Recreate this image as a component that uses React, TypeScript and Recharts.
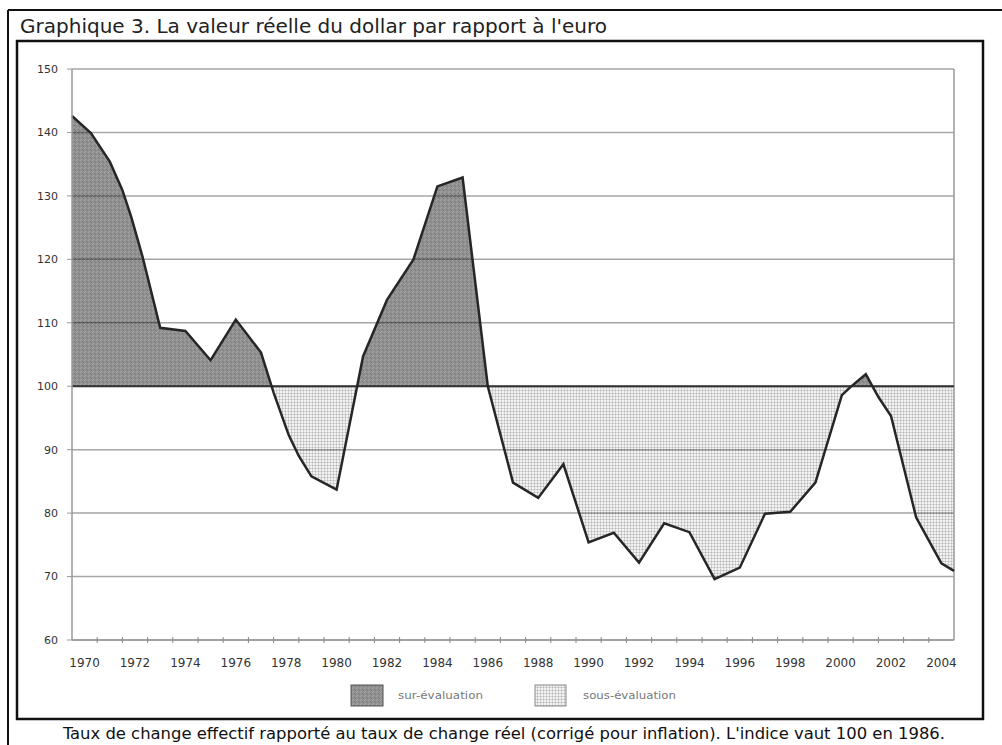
import { ComposedChart, Area, Line, XAxis, YAxis, CartesianGrid, ReferenceLine } from "recharts";

// decimal year positions (edges included)
const YEARS = [
  1969.5, 1970.25, 1971, 1971.5, 1971.85, 1972.3, 1973, 1974, 1975, 1976,
  1977, 1977.5, 1978.1, 1978.5, 1979, 1980, 1981.05, 1982, 1983.05, 1984,
  1985, 1986, 1987, 1988, 1989, 1990, 1991, 1992, 1993, 1994,
  1995, 1996, 1997, 1998, 1999, 2000.05, 2000.4, 2001, 2001.5, 2002,
  2003, 2004, 2004.5,
];
const VALUES = [
  142.6, 139.9, 135.4, 130.9, 126.7, 120.4, 109.2, 108.7, 104.1, 110.5,
  105.3, 99.0, 92.3, 89.0, 85.8, 83.7, 104.7, 113.6, 120.0, 131.5,
  132.9, 100.0, 84.8, 82.4, 87.7, 75.4, 76.9, 72.2, 78.4, 77.0,
  69.6, 71.4, 79.9, 80.2, 84.8, 98.6, 99.9, 101.9, 98.3, 95.3,
  79.3, 72.1, 70.9,
];
const X_LABELS = ["1970", "1972", "1974", "1976", "1978", "1980", "1982", "1984", "1986",
  "1988", "1990", "1992", "1994", "1996", "1998", "2000", "2002", "2004"];
const Y_TICKS = [60, 70, 80, 90, 100, 110, 120, 130, 140, 150];
const LEGEND = ["sur-évaluation", "sous-évaluation"];
const TITLE = "Graphique 3. La valeur réelle du dollar par rapport à l'euro";
const CAPTION = "Taux de change effectif rapporté au taux de change réel (corrigé pour inflation). L'indice vaut 100 en 1986.";

const data = YEARS.map((year, i) => ({ year, value: VALUES[i] }));

const W = 1002;
const H = 745;
const PLOT_TOP = 69;
const PLOT_BOTTOM = 640;
const Y_MIN = 60;
const Y_MAX = 150;
const Y100 = PLOT_TOP + ((Y_MAX - 100) / (Y_MAX - Y_MIN)) * (PLOT_BOTTOM - PLOT_TOP);

// label ticks on even years, small marks on the year boundaries
const tickMarks: number[] = [];
for (let y = 1970.5; y < 2004.5; y += 1) tickMarks.push(y);
const xTicks = [...X_LABELS.map(Number), ...tickMarks].sort((a, b) => a - b);

const FONT = "DejaVu Sans";

function XTick(props: any) {
  const { x, y, payload } = props;
  const v = payload.value;
  if (Number.isInteger(v)) {
    return (
      <text x={x} y={y + 23} textAnchor="middle" dominantBaseline="middle"
        fontSize={12} fontFamily={FONT} fill="#333">
        {v}
      </text>
    );
  }
  return <line x1={x} x2={x} y1={y - 3} y2={y + 3} stroke="#888" strokeWidth={1} />;
}

function Textures({ prefix }: { prefix: string }) {
  return (
    <>
      <pattern id={`${prefix}dark`} width="4" height="4" patternUnits="userSpaceOnUse">
        <rect width="4" height="4" fill="#000" fillOpacity={0.43} />
        <rect x="0" y="0" width="1" height="1" fill="#fff" fillOpacity={0.18} />
        <rect x="2" y="1" width="1" height="1" fill="#000" fillOpacity={0.15} />
        <rect x="1" y="3" width="1" height="1" fill="#fff" fillOpacity={0.14} />
        <rect x="3" y="2" width="1" height="1" fill="#000" fillOpacity={0.12} />
      </pattern>
      <pattern id={`${prefix}light`} width="3" height="3" patternUnits="userSpaceOnUse">
        <rect width="3" height="3" fill="#000" fillOpacity={0.05} />
        <rect x="0" y="0" width="3" height="1" fill="#000" fillOpacity={0.13} />
        <rect x="0" y="0" width="1" height="3" fill="#000" fillOpacity={0.13} />
      </pattern>
    </>
  );
}

export default function App() {
  return (
    <div style={{ position: "absolute", left: 0, top: 0, width: W, height: H, overflow: "hidden", background: "#fff" }}>
      <svg width={W} height={H} style={{ position: "absolute", left: 0, top: 0 }}>
        <defs>
          <Textures prefix="leg-" />
        </defs>
        {/* outer frame */}
        <line x1={8} x2={W} y1={10} y2={10} stroke="#111" strokeWidth={2} />
        <line x1={8} x2={8} y1={10} y2={H} stroke="#111" strokeWidth={2} />
        {/* inner frame */}
        <rect x={17} y={41} width={966} height={678} fill="#fff" stroke="#111" strokeWidth={2.5} />
        <text x={20} y={33} fontFamily="DejaVu Sans Condensed" fontSize={20} fill="#222"
          textLength={587} lengthAdjust="spacingAndGlyphs">
          {TITLE}
        </text>
        {/* legend */}
        <rect x={351} y={685} width={32} height={21} fill="url(#leg-dark)" stroke="#555" strokeWidth={1} />
        <text x={398} y={696} dominantBaseline="middle" fontFamily={FONT} fontSize={10} fill="#777"
          textLength={85} lengthAdjust="spacingAndGlyphs">
          {LEGEND[0]}
        </text>
        <rect x={535} y={685} width={31} height={21} fill="url(#leg-light)" stroke="#888" strokeWidth={1} />
        <text x={583} y={696} dominantBaseline="middle" fontFamily={FONT} fontSize={10} fill="#777"
          textLength={93} lengthAdjust="spacingAndGlyphs">
          {LEGEND[1]}
        </text>
        <text x={63} y={739} fontFamily="DejaVu Sans Condensed" fontSize={15} fill="#111"
          textLength={882} lengthAdjust="spacingAndGlyphs">
          {CAPTION}
        </text>
      </svg>
      <div style={{ position: "absolute", left: 0, top: 0 }}>
        <ComposedChart width={W} height={H} data={data}
          margin={{ top: PLOT_TOP, right: 48, left: 22, bottom: 75 }}>
          <defs>
            <Textures prefix="plot-" />
            <pattern id="splitFill" patternUnits="userSpaceOnUse" x="0" y="0" width={W} height={H}>
              <rect x="0" y="0" width={W} height={Y100} fill="url(#plot-dark)" />
              <rect x="0" y={Y100} width={W} height={H - Y100} fill="url(#plot-light)" />
            </pattern>
          </defs>
          <CartesianGrid vertical={false} stroke="#a6a6a6" strokeWidth={1.5} />
          <XAxis dataKey="year" type="number" domain={[1969.5, 2004.5]} ticks={xTicks}
            interval={0} tickLine={false} tickSize={0} tickMargin={0} height={30}
            axisLine={{ stroke: "#999", strokeWidth: 1.5 }} tick={<XTick />} />
          <YAxis domain={[Y_MIN, Y_MAX]} ticks={Y_TICKS} width={50} tickSize={5} tickMargin={9}
            axisLine={{ stroke: "#999", strokeWidth: 1.5 }} tickLine={{ stroke: "#999" }}
            tick={{ fill: "#333", fontSize: 11, fontFamily: FONT }} />
          <Area type="linear" dataKey="value" baseValue={100} fill="url(#splitFill)" fillOpacity={1}
            stroke="none" isAnimationActive={false} />
          <ReferenceLine x={2004.5} stroke="#999" strokeWidth={1.5} />
          <ReferenceLine y={100} stroke="#333" strokeWidth={2} />
          <Line type="linear" dataKey="value" stroke="#262626" strokeWidth={2.5} dot={false}
            activeDot={false} isAnimationActive={false} />
        </ComposedChart>
      </div>
    </div>
  );
}
